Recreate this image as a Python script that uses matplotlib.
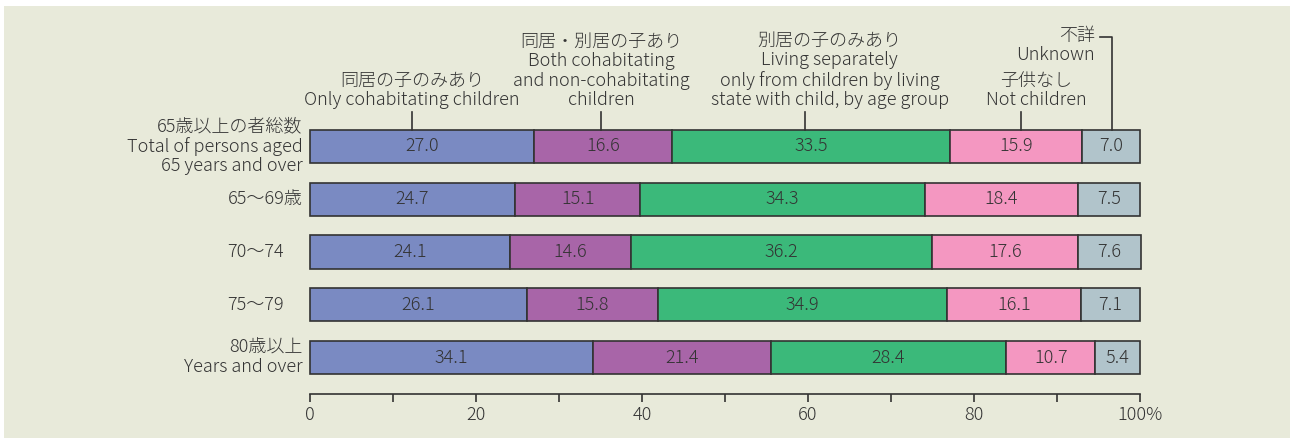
import matplotlib.pyplot as plt
from matplotlib.patches import Rectangle

plt.rcParams['font.family'] = ['Noto Sans CJK JP', 'DejaVu Sans']
plt.rcParams['font.weight'] = 'light'

# data
categories = ['65歳以上の者総数\nTotal of persons aged\n65 years and over',
              '65〜69歳', '70〜74', '75〜79', '80歳以上\nYears and over']
series_names = ['同居の子のみあり\nOnly cohabitating children',
                '同居・別居の子あり\nBoth cohabitating\nand non-cohabitating\nchildren',
                '別居の子のみあり\nLiving separately\nonly from children by living\nstate with child, by age group',
                '子供なし\nNot children',
                '不詳\nUnknown']
only_cohab = [27.0, 24.7, 24.1, 26.1, 34.1]
both_cohab = [16.6, 15.1, 14.6, 15.8, 21.4]
separate_only = [33.5, 34.3, 36.2, 34.9, 28.4]
no_children = [15.9, 18.4, 17.6, 16.1, 10.7]
unknown = [7.0, 7.5, 7.6, 7.1, 5.4]
x_ticks = [0, 20, 40, 60, 80, 100]
x_tick_labels = ['0', '20', '40', '60', '80', '100%']

colors = ['#7A8AC2', '#A865A8', '#3BB97A', '#F497C1', '#B1C4CB']
text_color = '#333333'
bg = '#E8EADA'

series = [only_cohab, both_cohab, separate_only, no_children, unknown]

fig = plt.figure(figsize=(12.9, 4.41), dpi=100)
fig.patches.append(Rectangle((4 / 1290, 3 / 441), 1 - 4 / 1290, 1 - 9 / 441,
                             transform=fig.transFigure, facecolor=bg,
                             edgecolor='none', zorder=-10))
ax = fig.add_axes([310 / 1290, 1 - 394 / 441, 830 / 1290, 274 / 441])
ax.set_facecolor('none')

ypos = list(range(len(categories)))
bar_h = 0.63
left = [0] * len(categories)
for vals, col in zip(series, colors):
    ax.barh(ypos, vals, left=left, height=bar_h, color=col,
            edgecolor=text_color, linewidth=1.2, clip_on=False)
    for y, l, v in zip(ypos, left, vals):
        ax.text(l + v / 2, y, f'{v:.1f}', ha='center', va='center',
                fontsize=13, color=text_color)
    left = [a + b for a, b in zip(left, vals)]

ax.set_xlim(0, 100)
ax.set_ylim(4.69, -0.5)
ax.set_yticks([])
ax.set_xticks(x_ticks)
ax.set_xticklabels(x_tick_labels, fontsize=13, color=text_color)
ax.set_xticks([10, 30, 50, 70, 90], minor=True)
ax.tick_params(axis='x', which='both', direction='out', length=6,
               width=1.2, color=text_color, pad=3)
for s in ['top', 'right', 'left']:
    ax.spines[s].set_visible(False)
ax.spines['bottom'].set_color(text_color)
ax.spines['bottom'].set_linewidth(1.2)

# category labels on the left
label_x = [-0.9, -0.9, -3.2, -3.2, -0.9]
for y, lab, lx in zip(ypos, categories, label_x):
    ax.text(lx, y, lab, ha='right', va='center', fontsize=13,
            color=text_color, linespacing=1.1, clip_on=False)

# series labels with leader lines above the first bar
bar_top = -bar_h / 2
leader_x = [12.3, 35.1, 59.6, 85.7]
text_x = [12.3, 35.1, 62.6, 87.5]
for name, lx, tx in zip(series_names[:4], leader_x, text_x):
    ax.text(tx, -0.71, name, ha='center', va='bottom', fontsize=13,
            color=text_color, linespacing=1.1, clip_on=False)
    ax.plot([lx, lx], [-0.654, bar_top], color=text_color, lw=1.2,
            clip_on=False)

ax.text(94.6, -1.915, series_names[4], ha='right', va='center', fontsize=13,
        color=text_color, linespacing=1.1, clip_on=False)
ax.plot([95.2, 96.6, 96.6], [-2.076, -2.076, bar_top], color=text_color,
        lw=1.2, clip_on=False)

fig.savefig('out.png', dpi=100)
